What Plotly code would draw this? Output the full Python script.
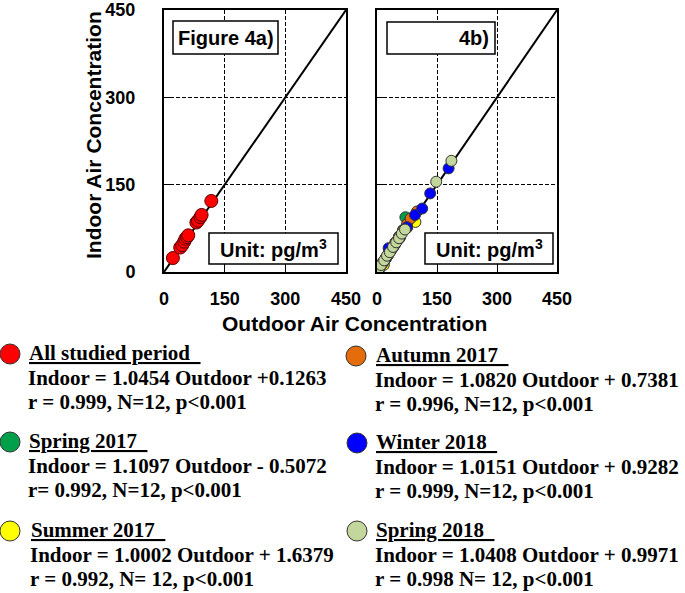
import plotly.graph_objects as go

W, H = 685, 593

# ---------------- data ----------------
all_out = [22, 40, 45, 50, 53, 57, 60, 80, 84, 90, 93, 117]
all_in = [24, 42, 46, 52, 57, 60, 63, 85, 88, 94, 98, 122]

spring17_out = [2, 5, 8, 12, 18, 24, 30, 38, 46, 55, 65, 71]
spring17_in = [2, 4, 8, 13, 19, 26, 33, 41, 50, 61, 72, 94]

summer17_out = [3, 6, 10, 14, 17, 22, 28, 35, 45, 58, 75, 96]
summer17_in = [5, 8, 11, 16, 12, 24, 29, 37, 47, 60, 76, 86]

autumn17_out = [4, 9, 15, 22, 30, 38, 46, 55, 65, 75, 84, 100]
autumn17_in = [5, 11, 17, 24, 33, 42, 51, 60, 71, 82, 92, 104]

winter18_out = [3, 8, 14, 22, 29, 40, 55, 75, 95, 113, 133, 179]
winter18_in = [4, 9, 15, 23, 41, 42, 57, 77, 98, 109, 135, 178]

spring18_out = [5, 10, 18, 25, 32, 40, 48, 55, 62, 70, 148, 186]
spring18_in = [6, 12, 20, 28, 34, 43, 51, 58, 66, 73, 155, 191]

tick_vals = [0, 150, 300, 450]
tick_text = ["0", "150", "300", "450"]

legend_names = ["All studied period", "Spring 2017", "Summer 2017",
                "Autumn 2017", "Winter 2018", "Spring 2018"]
legend_eq = ["Indoor = 1.0454 Outdoor +0.1263",
             "Indoor = 1.1097 Outdoor - 0.5072",
             "Indoor = 1.0002 Outdoor + 1.6379",
             "Indoor = 1.0820 Outdoor + 0.7381",
             "Indoor = 1.0151 Outdoor + 0.9282",
             "Indoor = 1.0408 Outdoor + 0.9971"]
legend_stats = ["r = 0.999, N=12, p<0.001",
                "r= 0.992, N=12, p<0.001",
                "r = 0.992, N= 12, p<0.001",
                "r = 0.996, N=12, p<0.001",
                "r = 0.999, N=12, p<0.001",
                "r = 0.998 N= 12, p<0.001"]
colors = ["#ff0000", "#00a04a", "#ffff00", "#e46c0a", "#0000ff", "#c3d69b"]

# ---------------- helpers ----------------
def px(x):
    return x / W


def py(y):
    return 1 - y / H


fig = go.Figure()

# diagonal 1:1 lines
for xa, ya in [("x", "y"), ("x2", "y2")]:
    fig.add_trace(go.Scatter(x=[0, 450], y=[0, 450], mode="lines",
                             line=dict(color="black", width=2),
                             xaxis=xa, yaxis=ya, showlegend=False, hoverinfo="skip"))

# left panel
fig.add_trace(go.Scatter(x=all_out, y=all_in, mode="markers", xaxis="x", yaxis="y",
                         marker=dict(size=13, color=colors[0], line=dict(color="#5a0000", width=1)),
                         showlegend=False))

# right panel
season_data = [(spring17_out, spring17_in, colors[1]),
               (summer17_out, summer17_in, colors[2]),
               (autumn17_out, autumn17_in, colors[3]),
               (winter18_out, winter18_in, colors[4]),
               (spring18_out, spring18_in, colors[5])]
for xo, yi, c in season_data:
    fig.add_trace(go.Scatter(x=xo, y=yi, mode="markers", xaxis="x2", yaxis="y2",
                             marker=dict(size=11, color=c, line=dict(color="#333333", width=1)),
                             showlegend=False))

tickfont = dict(family="Liberation Sans", size=18, color="black", weight="bold")
common = dict(range=[0, 450], tickvals=tick_vals, ticktext=tick_text,
              showgrid=True, gridcolor="black", griddash="4px,2px", gridwidth=1,
              showline=True, linecolor="black", linewidth=2, mirror=True,
              ticks="inside", ticklen=7, tickcolor="black", zeroline=False,
              tickfont=tickfont, fixedrange=True, automargin=False)

ydom = [py(272), py(10)]
fig.update_layout(
    width=W, height=H, autosize=False,
    margin=dict(l=0, r=0, t=0, b=0, autoexpand=False),
    paper_bgcolor="white", plot_bgcolor="white",
    xaxis=dict(domain=[px(164), px(346)], anchor="y", ticklabelstandoff=9, **common),
    yaxis=dict(domain=ydom, anchor="x", ticklabelstandoff=23, **common),
    xaxis2=dict(domain=[px(377), px(557)], anchor="y2", ticklabelstandoff=9, **common),
    yaxis2=dict(domain=ydom, anchor="x2", showticklabels=False, **common),
    showlegend=False,
)

shapes = []
annotations = []

# panel label boxes
box_line = dict(color="black", width=1.5)
for (x0, y0, x1, y1) in [(173, 21, 278, 54), (387, 22, 495, 54),
                         (209, 233, 338, 264), (425, 233, 553, 264)]:
    shapes.append(dict(type="rect", xref="paper", yref="paper",
                       x0=px(x0), x1=px(x1), y0=py(y1), y1=py(y0),
                       fillcolor="white", line=box_line, layer="above"))

boxfont = dict(family="Liberation Sans", size=20, color="black", weight="bold")
annotations += [
    dict(text="Figure 4a)", x=px(225.5), y=py(38), xref="paper", yref="paper",
         xanchor="center", yanchor="middle", showarrow=False, font=boxfont),
    dict(text="4b)", x=px(491), y=py(38), xref="paper", yref="paper",
         xanchor="right", yanchor="middle", showarrow=False, font=boxfont),
    dict(text="Unit: pg/m<sup>3</sup>", x=px(273.5), y=py(248), xref="paper", yref="paper",
         xanchor="center", yanchor="middle", showarrow=False, font=boxfont),
    dict(text="Unit: pg/m<sup>3</sup>", x=px(489), y=py(248), xref="paper", yref="paper",
         xanchor="center", yanchor="middle", showarrow=False, font=boxfont),
]

# axis titles
titlefont = dict(family="Liberation Sans", size=21, color="black", weight="bold")
annotations += [
    dict(text="Indoor Air Concentration", x=px(93), y=py(135), xref="paper", yref="paper",
         textangle=-90, showarrow=False, font=titlefont, xanchor="center", yanchor="middle"),
    dict(text="Outdoor Air Concentration", x=px(354), y=py(323), xref="paper", yref="paper",
         showarrow=False, font=titlefont, xanchor="center", yanchor="middle"),
]

# custom legend
legfont = dict(family="Liberation Serif", size=21, color="black", weight="bold")
leg_pos = [(10, 28, 353), (10, 28, 441), (10, 30, 530),
           (356, 375, 355), (357, 375, 442), (357, 375, 530)]
for i, (cx, tx, ty) in enumerate(leg_pos):
    shapes.append(dict(type="circle", xref="paper", yref="paper",
                       xsizemode="pixel", ysizemode="pixel",
                       xanchor=px(cx), yanchor=py(ty + 1),
                       x0=-10, x1=10, y0=-10, y1=10,
                       fillcolor=colors[i], line=dict(color="#333333", width=1)))
    annotations.append(dict(text="<u>" + legend_names[i] + "\u00a0\u00a0</u>",
                            x=px(tx - 1), y=py(ty), xref="paper", yref="paper",
                            xanchor="left", yanchor="middle", showarrow=False, font=legfont))
    annotations.append(dict(text=legend_eq[i], x=px(tx - 2), y=py(ty + 25), xref="paper", yref="paper",
                            xanchor="left", yanchor="middle", showarrow=False, font=legfont))
    annotations.append(dict(text=legend_stats[i], x=px(tx - 2), y=py(ty + 49), xref="paper", yref="paper",
                            xanchor="left", yanchor="middle", showarrow=False, font=legfont))

fig.update_layout(shapes=shapes, annotations=annotations)

fig.write_html("out.html", config={"displayModeBar": False},
               post_script="document.body.style.margin='0';document.body.style.overflow='hidden';")
